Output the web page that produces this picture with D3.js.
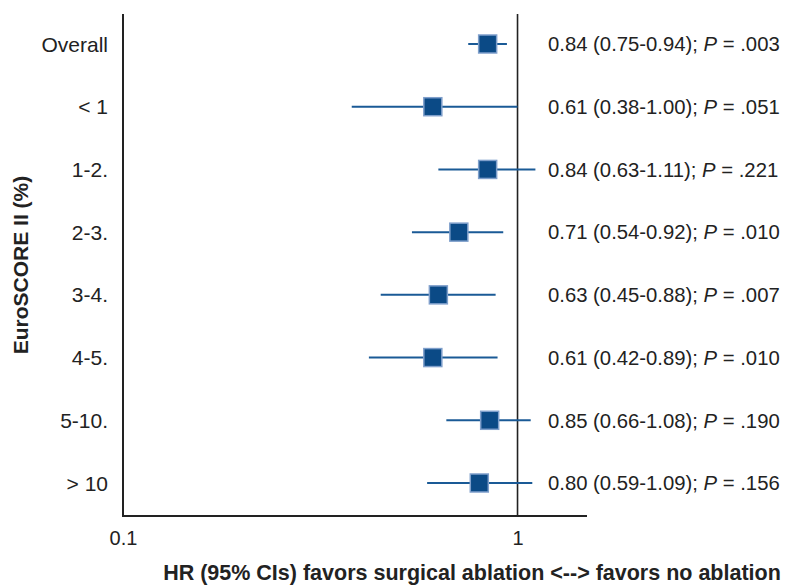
<!DOCTYPE html>
<html>
<head>
<meta charset="utf-8">
<script src="https://cdn.jsdelivr.net/npm/d3@7"></script>
<style>
  html, body { margin: 0; padding: 0; background: #fff; }
  svg { display: block; font-family: "Liberation Sans", Arial, Helvetica, sans-serif; }
</style>
</head>
<body>
<svg id="chart" width="793" height="586"></svg>
<script>
// Subgroups by EuroSCORE II (%)
const categories = ["Overall", "< 1", "1-2.", "2-3.", "3-4.", "4-5.", "5-10.", "> 10"];
const hr    = [0.84, 0.61, 0.84, 0.71, 0.63, 0.61, 0.85, 0.80];
const lower = [0.75, 0.38, 0.63, 0.54, 0.45, 0.42, 0.66, 0.59];
const upper = [0.94, 1.00, 1.11, 0.92, 0.88, 0.89, 1.08, 1.09];
const pValues = [".003", ".051", ".221", ".010", ".007", ".010", ".190", ".156"];
const tickValues = [0.1, 1];
const tickLabels = ["0.1", "1"];

const svg = d3.select("#chart");

const x = d3.scaleLog().domain([0.1, 1.5]).range([123, 587]);
const y = d3.scalePoint().domain(categories).range([44, 483]);

const lineColor = "#1a5a96";
const boxFill = "#0b4a86";
const boxStroke = "#7f9fcb";
const boxSize = 18;
const textColor = "#222";

// Axes frame
const axisColor = "#222";
svg.append("line")
  .attr("x1", x(0.1)).attr("x2", x(0.1))
  .attr("y1", 14).attr("y2", 517)
  .attr("stroke", axisColor).attr("stroke-width", 2);
svg.append("line")
  .attr("x1", x(0.1) - 1).attr("x2", x(1.5))
  .attr("y1", 516).attr("y2", 516)
  .attr("stroke", axisColor).attr("stroke-width", 2);
// Line of no effect
svg.append("line")
  .attr("x1", x(1)).attr("x2", x(1))
  .attr("y1", 14).attr("y2", 516)
  .attr("stroke", axisColor).attr("stroke-width", 1.6);

// X tick labels
const xAxis = d3.axisBottom(x)
  .tickValues(tickValues)
  .tickFormat((d, i) => tickLabels[i])
  .tickSize(0)
  .tickPadding(15);
const gx = svg.append("g").attr("transform", "translate(0,516)").call(xAxis);
gx.select(".domain").remove();
gx.selectAll("text")
  .attr("font-size", 20)
  .attr("font-family", "Liberation Sans, Arial, sans-serif")
  .attr("fill", textColor);

// Category labels
svg.append("g").selectAll("text")
  .data(categories)
  .join("text")
  .attr("x", 108)
  .attr("y", d => y(d))
  .attr("dy", "0.36em")
  .attr("text-anchor", "end")
  .attr("font-size", 21)
  .attr("fill", textColor)
  .text(d => d);

// Confidence intervals
const rows = categories.map((c, i) => ({ c, hr: hr[i], lo: lower[i], hi: upper[i], p: pValues[i] }));

svg.append("g").selectAll("line")
  .data(rows)
  .join("line")
  .attr("x1", d => x(d.lo))
  .attr("x2", d => x(d.hi))
  .attr("y1", d => y(d.c))
  .attr("y2", d => y(d.c))
  .attr("stroke", lineColor)
  .attr("stroke-width", 2);

// Point estimates
svg.append("g").selectAll("rect")
  .data(rows)
  .join("rect")
  .attr("x", d => x(d.hr) - boxSize / 2)
  .attr("y", d => y(d.c) - boxSize / 2)
  .attr("width", boxSize)
  .attr("height", boxSize)
  .attr("fill", boxFill)
  .attr("stroke", boxStroke)
  .attr("stroke-width", 1.5);

// Estimate text
const fmt = d3.format(".2f");
const est = svg.append("g").selectAll("text")
  .data(rows)
  .join("text")
  .attr("x", 548)
  .attr("y", d => y(d.c))
  .attr("dy", "0.36em")
  .attr("font-size", 20.3)
  .attr("fill", textColor);
est.append("tspan").text(d => `${fmt(d.hr)} (${fmt(d.lo)}-${fmt(d.hi)}); `);
est.append("tspan").attr("font-style", "italic").text("P");
est.append("tspan").text(d => ` = ${d.p}`);

// Axis titles
svg.append("text")
  .attr("transform", "translate(28,265) rotate(-90)")
  .attr("text-anchor", "middle")
  .attr("font-size", 21)
  .attr("font-weight", "bold")
  .attr("fill", textColor)
  .text("EuroSCORE II (%)");

svg.append("text")
  .attr("x", 472)
  .attr("y", 580)
  .attr("text-anchor", "middle")
  .attr("font-size", 21.5)
  .attr("font-weight", "bold")
  .attr("fill", textColor)
  .text("HR (95% CIs) favors surgical ablation <--> favors no ablation");
</script>
</body>
</html>
